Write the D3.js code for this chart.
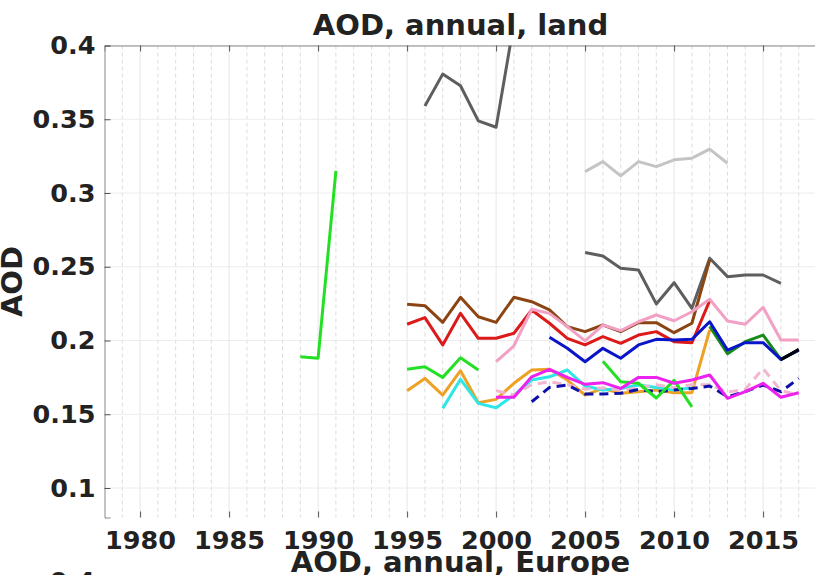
<!DOCTYPE html>
<html><head><meta charset="utf-8">
<script src="https://cdn.jsdelivr.net/npm/d3@7"></script>
<style>body{margin:0;background:#fff}svg{display:block}text{font-family:"DejaVu Sans",sans-serif;font-weight:bold;fill:#222}</style>
</head><body><svg id="c" width="815" height="575"></svg>
<script>
// ---- data (AOD, annual, land) ----
const xTicks = [1980,1985,1990,1995,2000,2005,2010,2015];
const yTicks = [0.1,0.15,0.2,0.25,0.3,0.35,0.4];

const greenEarlyStart = 1989;
const greenEarly = [0.189,0.188,0.315];
const greenMidStart = 1995;
const greenMid = [0.1805,0.1822,0.175,0.1883,0.18];
const greenLateStart = 2006;
const greenLate = [0.186,0.172,0.171,0.161,0.173,0.155];
const darkGreenStart = 2012;
const darkGreen = [0.2095,0.191,0.1992,0.2037,0.1872,0.1935];
const blackStart = 2016;
const black = [0.187,0.194];
const blueStart = 2003;
const blue = [0.2022,0.1947,0.1856,0.1947,0.188,0.197,0.2008,0.2003,0.2008,0.2127,0.1935,0.1985,0.1985,0.1872,0.1935];
const redStart = 1995;
const red = [0.211,0.2155,0.197,0.2184,0.2015,0.2015,0.2049,0.2207,0.2117,0.2015,0.197,0.2026,0.1981,0.2037,0.206,0.1992,0.1985,0.227];
const brownStart = 1995;
const brown = [0.2246,0.2236,0.2123,0.2293,0.2161,0.2123,0.2293,0.2263,0.2207,0.2094,0.206,0.2105,0.206,0.2121,0.2121,0.2053,0.2117,0.2546];
const pinkStart = 2000;
const pink = [0.1856,0.1963,0.2212,0.2184,0.2094,0.1997,0.2105,0.2067,0.2127,0.2173,0.2134,0.2195,0.228,0.2132,0.211,0.2225,0.2003,0.2003];
const pinkDashStart = 2000;
const pinkDash = [0.166,0.163,0.17,0.172,0.17,0.167,0.168,0.166,0.168,0.17,0.168,0.17,0.17,0.165,0.167,0.181,0.166,0.163];
const cyanStart = 1997;
const cyan = [0.154,0.1737,0.1574,0.1544,0.163,0.1732,0.1754,0.18,0.1691,0.1664,0.1675,0.1698,0.1682,0.1664,0.168];
const orangeStart = 1995;
const orange = [0.166,0.1743,0.163,0.1795,0.1578,0.1601,0.171,0.18,0.1805,0.1732,0.163,0.1675,0.1642,0.1653,0.1664,0.1646,0.1646,0.2071];
const magentaStart = 2000;
const magenta = [0.1615,0.1615,0.1754,0.1805,0.175,0.1703,0.1714,0.1675,0.175,0.175,0.171,0.1732,0.1766,0.1608,0.1653,0.171,0.1615,0.1646];
const navyDashStart = 2002;
const navyDash = [0.1585,0.1682,0.1698,0.1637,0.1637,0.1642,0.1668,0.1653,0.1664,0.1675,0.1691,0.1619,0.1653,0.1698,0.1653,0.1743];
const greyTopStart = 1996;
const greyTop = [0.359,0.3806,0.3727,0.3489,0.3446,0.415];
const lightGreyStart = 2005;
const lightGrey = [0.3145,0.3213,0.3116,0.3213,0.3179,0.3225,0.3236,0.3297,0.3202];
const greyLowStart = 2005;
const greyLow = [0.2596,0.2573,0.249,0.2478,0.2248,0.2392,0.2218,0.2558,0.2433,0.2444,0.2444,0.2388];

const seriesList = [
  [lightGreyStart, lightGrey, "#c4c4c4", null],
  [greyTopStart, greyTop, "#5e5e5e", null],
  [greyLowStart, greyLow, "#5e5e5e", null],
  [greenEarlyStart, greenEarly, "#24e024", null],
  [greenMidStart, greenMid, "#24e024", null],
  [orangeStart, orange, "#eda125", null],
  [cyanStart, cyan, "#2ee6e6", null],
  [brownStart, brown, "#8b4513", null],
  [redStart, red, "#dd1a1a", null],
  [pinkStart, pink, "#f2a0c4", null],
  [pinkDashStart, pinkDash, "#f2b6cf", "9,6"],
  [navyDashStart, navyDash, "#0c10a8", "9,6"],
  [greenLateStart, greenLate, "#24e024", null],
  [darkGreenStart, darkGreen, "#178a17", null],
  [blueStart, blue, "#0a14c8", null],
  [blackStart, black, "#000000", null],
  [magentaStart, magenta, "#ee22ee", null]
];

// ---- layout ----
const svg = d3.select("#c");
const L = 104.5, R = 816.5, T = 45.5, B = 517.5;
const x = d3.scaleLinear().domain([1978, 2018]).range([L, R]);
const y = d3.scaleLinear().domain([0.08, 0.4]).range([B, T]);

// minor vertical grid (every year)
const minorYears = d3.range(1979, 2018).filter(v => v % 5 !== 0);
svg.append("g").selectAll("line").data(minorYears).join("line")
  .attr("x1", d => x(d)).attr("x2", d => x(d)).attr("y1", T).attr("y2", B)
  .attr("stroke", "#dcdcdc").attr("stroke-width", 1).attr("stroke-dasharray", "4,3");
// major grid
svg.append("g").selectAll("line").data(xTicks).join("line")
  .attr("x1", d => x(d)).attr("x2", d => x(d)).attr("y1", T).attr("y2", B)
  .attr("stroke", "#e6e6e6").attr("stroke-width", 1);
svg.append("g").selectAll("line").data(yTicks).join("line")
  .attr("x1", L).attr("x2", R).attr("y1", d => y(d)).attr("y2", d => y(d))
  .attr("stroke", "#ececec").attr("stroke-width", 1);

// axes
const xAxisTop = d3.axisTop(x).tickValues(xTicks).tickSize(-6).tickFormat("");
const gxt = svg.append("g").attr("transform", `translate(0,${T})`).call(xAxisTop);
gxt.select(".domain").attr("stroke", "#888");
gxt.selectAll(".tick line").attr("stroke", "#555");

const xAxisBot = d3.axisBottom(x).tickValues(xTicks).tickSize(-6).tickFormat(d3.format("d"));
const gxb = svg.append("g").attr("transform", `translate(0,${B})`).call(xAxisBot);
gxb.select(".domain").remove();
gxb.selectAll(".tick line").attr("stroke", "#555");
gxb.selectAll(".tick text").attr("font-size", 25.5).attr("dy", null).attr("y", 31)
  .style("font-family", "DejaVu Sans").style("font-weight", "bold").attr("fill", "#222");

const yAxis = d3.axisLeft(y).tickValues(yTicks).tickSize(-6).tickFormat(d => String(+d.toFixed(2)));
const gy = svg.append("g").attr("transform", `translate(${L},0)`).call(yAxis);
gy.select(".domain").attr("stroke", "#888");
gy.selectAll(".tick line").attr("stroke", "#555");
gy.selectAll(".tick text").attr("font-size", 25.5).attr("x", -9)
  .style("font-family", "DejaVu Sans").style("font-weight", "bold").attr("fill", "#222");

// clip
svg.append("clipPath").attr("id", "clip").append("rect")
  .attr("x", L).attr("y", T).attr("width", R - L).attr("height", B - T);

const line = d3.line().x(d => x(d[0])).y(d => y(d[1]));
const gl = svg.append("g").attr("clip-path", "url(#clip)");
seriesList.forEach(([start, vals, color, dash]) => {
  const pts = vals.map((v, i) => [start + i, v]);
  gl.append("path").datum(pts).attr("d", line)
    .attr("fill", "none").attr("stroke", color).attr("stroke-width", 3)
    .attr("stroke-linejoin", "round")
    .attr("stroke-dasharray", dash);
});

// titles
svg.append("text").attr("x", (L + R) / 2).attr("y", 35).attr("text-anchor", "middle")
  .attr("font-size", 29).text("AOD, annual, land");
svg.append("text").attr("transform", `translate(22,${(T + B) / 2}) rotate(-90)`)
  .attr("text-anchor", "middle").attr("font-size", 29).text("AOD");
svg.append("text").attr("x", (L + R) / 2).attr("y", 572).attr("text-anchor", "middle")
  .attr("font-size", 29).text("AOD, annual, Europe");
svg.append("text").attr("x", 95).attr("y", 590).attr("text-anchor", "end")
  .attr("font-size", 25.5).text("0.4");
</script></body></html>
